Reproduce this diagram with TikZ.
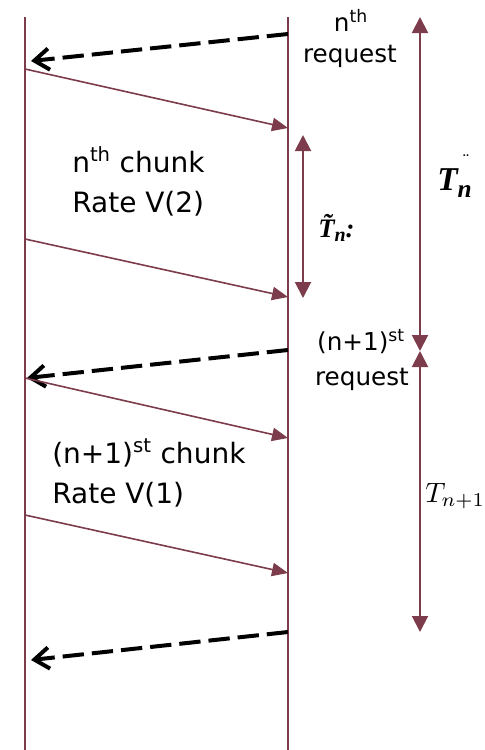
\documentclass[tikz,border=0pt]{standalone}
\usepackage{fontspec}
\setmainfont{DejaVu Sans}
\newfontfamily\timesf{Liberation Serif}
\usetikzlibrary{arrows.meta}
\definecolor{maroon}{HTML}{7D3C4C}
\begin{document}
\begin{tikzpicture}[x=0.75pt,y=-0.75pt,
  life/.style={draw=maroon,line width=1.5pt},
  chunkarrow/.style={draw=maroon,line width=1.2pt,-{Triangle[length=12pt,width=10pt]}},
  reqarrow/.style={draw=black,line width=3pt,dash pattern=on 16pt off 6pt,-{Straight Barb[length=11pt,width=16pt]}},
  spanarrow/.style={draw=maroon,line width=1.5pt,{Triangle[length=12pt,width=12pt]}-{Triangle[length=12pt,width=12pt]}},
  bigtxt/.style={font=\fontsize{21}{24}\selectfont,inner sep=0pt,anchor=base west},
  reqtxt/.style={font=\fontsize{18.5}{22}\selectfont,inner sep=0pt,anchor=base},
  mathtxt/.style={inner sep=0pt,anchor=base west}]
\path[use as bounding box] (0,0) rectangle (485,750);
% lifelines
\coordinate (LT) at (25,17);
\coordinate (LB) at (25,750);
\coordinate (RT) at (288,17);
\coordinate (RB) at (288,750);
\draw[life] (LT) -- (LB);
\draw[life] (RT) -- (RB);
% requests
\coordinate (q1s) at (288,34);  \coordinate (q1e) at (31,61);
\coordinate (q2s) at (288,350); \coordinate (q2e) at (27,378);
\coordinate (q3s) at (288,632); \coordinate (q3e) at (31,660);
\draw[reqarrow] (q1s) -- (q1e);
\draw[reqarrow] (q2s) -- (q2e);
\draw[reqarrow] (q3s) -- (q3e);
% chunks
\coordinate (c1s) at (25,69);  \coordinate (c1e) at (288,128);
\coordinate (c2s) at (25,239); \coordinate (c2e) at (288,297);
\coordinate (c3s) at (25,378); \coordinate (c3e) at (288,438);
\coordinate (c4s) at (25,515); \coordinate (c4e) at (288,573);
\draw[chunkarrow] (c1s) -- (c1e);
\draw[chunkarrow] (c2s) -- (c2e);
\draw[chunkarrow] (c3s) -- (c3e);
\draw[chunkarrow] (c4s) -- (c4e);
% spans
\coordinate (s0) at (420,17);
\coordinate (s1) at (420,351);
\coordinate (s2) at (420,632);
\coordinate (t0) at (303,135);
\coordinate (t1) at (303,298);
\draw[spanarrow] (s0) -- (s1);
\draw[spanarrow] (s1) -- (s2);
\draw[spanarrow] (t0) -- (t1);
% labels
\node[reqtxt] (r1a) at (351,31) {n\textsuperscript{th}};
\node[reqtxt] (r1b) at (350,62) {request};
\node[reqtxt] (r2a) at (361,350) {(n+1)\textsuperscript{st}};
\node[reqtxt] (r2b) at (362,385) {request};
\node[bigtxt] (k1a) at (72,172) {n\textsuperscript{th} chunk};
\node[bigtxt] (k1b) at (72,212) {Rate V(2)};
\node[bigtxt] (k2a) at (52,463) {(n+1)\textsuperscript{st} chunk};
\node[bigtxt] (k2b) at (52,503) {Rate V(1)};
\node[mathtxt,font=\timesf\bfseries\itshape\fontsize{20}{22}\selectfont] (tt) at (318,237) {\~{T}\raisebox{-0.35ex}{\fontsize{15}{16}\selectfont n}:};
\node[mathtxt,font=\timesf\bfseries\itshape\fontsize{25}{28}\selectfont] (tn) at (437,190) {T\raisebox{-0.5ex}{\fontsize{19}{20}\selectfont n}};
\node[inner sep=0pt,anchor=base,font=\timesf\fontsize{14}{14}\selectfont] (dd) at (466,166) {¨};
\node[mathtxt] (tn1) at (425,502) {\scalebox{2.1}{$T_{n+1}$}};
\end{tikzpicture}
\end{document}
